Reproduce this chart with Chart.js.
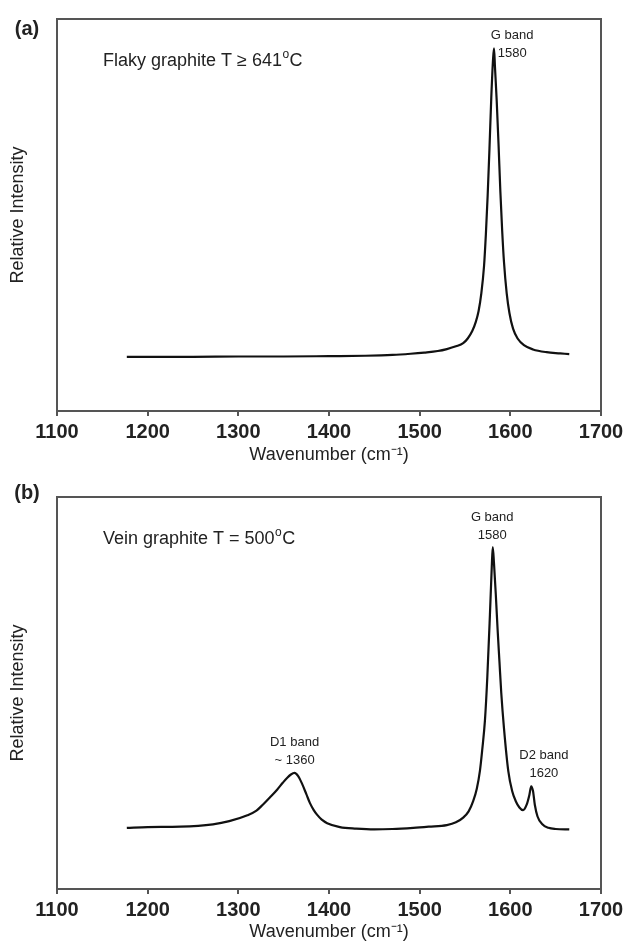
<!DOCTYPE html>
<html>
<head>
<meta charset="utf-8">
<script src="https://cdn.jsdelivr.net/npm/chart.js@4.4.1/dist/chart.umd.min.js"></script>
<style>
    body { margin: 0; background: #fff; }
    #wrap { position: relative; width: 631px; height: 944px; }
    canvas { position: absolute; left: 0; }
    #chartA { top: 0; }
    #chartB { top: 478px; }
</style>
</head>
<body>
<div id="wrap">
    <canvas id="chartA" width="631" height="470"></canvas>
    <canvas id="chartB" width="631" height="466"></canvas>
</div>
<script>
// panel (a): flaky graphite
var waveA = [1177, 1200, 1250, 1300, 1350, 1400, 1440, 1470, 1490, 1505, 1520, 1530, 1540, 1548, 1553,
    1558, 1562, 1565, 1568, 1571, 1573, 1575, 1577, 1579, 1581, 1582, 1583, 1585, 1587, 1589, 1591,
    1593, 1596, 1599, 1603, 1608, 1615, 1625, 1640, 1655, 1665];
var intensityA = [13.8, 13.8, 13.8, 13.9, 13.9, 14.0, 14.1, 14.3, 14.6, 14.9, 15.3, 15.8, 16.5, 17.3, 18.5,
    20.4, 22.8, 25.5, 30, 37, 45, 55, 67, 80, 90, 92.5, 88, 79, 68, 56, 46,
    38, 30, 25, 21, 18.5, 16.8, 15.7, 15.0, 14.7, 14.5];

// panel (b): vein graphite
var waveB = [1177, 1200, 1236, 1272, 1290, 1310, 1320, 1327, 1335, 1343, 1349, 1354, 1358, 1362, 1366,
    1370, 1375, 1379, 1383, 1387, 1392, 1398, 1412, 1430, 1450, 1470, 1493, 1510, 1530, 1540, 1548,
    1554, 1559, 1563, 1566.5, 1569, 1572, 1574.6, 1577.5, 1579.5, 1580.6, 1582, 1584, 1586, 1588, 1590,
    1593, 1597.8, 1602, 1606, 1610, 1614, 1618, 1621, 1623, 1625, 1627, 1630, 1635, 1642, 1650, 1665];
var intensityB = [15.6, 15.8, 15.9, 16.5, 17.3, 18.8, 20.0, 21.5, 23.4, 25.4, 27.1, 28.4, 29.2, 29.6, 28.8,
    27.0, 24.2, 21.9, 20.2, 18.9, 17.7, 16.8, 15.8, 15.4, 15.2, 15.3, 15.6, 15.9, 16.3, 17.0, 18.2,
    19.8, 22.4, 25.6, 30.2, 35.5, 43, 54, 70, 82, 87.2, 83, 75, 66, 58, 50,
    41, 30, 25, 22.4, 20.8, 20.1, 21.5, 24, 26.2, 25, 21.5, 18.5, 16.6, 15.6, 15.3, 15.2];

var xTicks = [1100, 1200, 1300, 1400, 1500, 1600, 1700];

// peak labels: [line 1, line 2, wavenumber, intensity of line 1]
var labelsA = [['G band', '1580', 1602, 95.9]];
var labelsB = [['G band', '1580', 1580, 94.9], ['D1 band', '~ 1360', 1362, 37.5], ['D2 band', '1620', 1637, 34.2]];

var textColor = '#222';
var frameColor = '#555';

function toPoints(xs, ys) {
    var pts = [];
    for (var i = 0; i < xs.length; i++) {
        pts.push({x: xs[i], y: ys[i]});
    }
    return pts;
}

// box around the plot area, panel letter, header text and peak labels
function annotations(letter, header, degrees, peakLabels, letterY) {
    return {
        id: 'annotations',
        afterDraw: function(chart) {
            var ctx = chart.ctx;
            var area = chart.chartArea;
            var xs = chart.scales.x, ys = chart.scales.y;
            ctx.save();
            ctx.strokeStyle = frameColor;
            ctx.lineWidth = 2;
            ctx.strokeRect(area.left, area.top, area.right - area.left, area.bottom - area.top);

            ctx.fillStyle = textColor;
            ctx.textBaseline = 'middle';
            ctx.textAlign = 'center';
            ctx.font = 'bold 20px "Liberation Sans", Arial, sans-serif';
            ctx.fillText(letter, 27, letterY);

            // header with superscript o
            ctx.textAlign = 'left';
            ctx.font = '18px "Liberation Sans", Arial, sans-serif';
            var hx = xs.getPixelForValue(1150.7);
            var hy = ys.getPixelForValue(89.3);
            ctx.fillText(header, hx, hy);
            hx += ctx.measureText(header).width;
            ctx.fillText(degrees, hx, hy);
            hx += ctx.measureText(degrees).width;
            ctx.font = '12px "Liberation Sans", Arial, sans-serif';
            ctx.fillText('o', hx + 0.5, hy - 6);
            hx += ctx.measureText('o').width + 1;
            ctx.font = '18px "Liberation Sans", Arial, sans-serif';
            ctx.fillText('C', hx, hy);

            ctx.textAlign = 'center';
            ctx.font = '13px "Liberation Sans", Arial, sans-serif';
            for (var i = 0; i < peakLabels.length; i++) {
                var lb = peakLabels[i];
                var px = xs.getPixelForValue(lb[2]);
                var py = ys.getPixelForValue(lb[3]);
                ctx.fillText(lb[0], px, py);
                ctx.fillText(lb[1], px, py + 18);
            }
            ctx.restore();
        }
    };
}

function makeChart(id, xs, ys, axisHeight, titlePad, plugin) {
    return new Chart(document.getElementById(id), {
        type: 'line',
        data: {
            datasets: [{
                data: toPoints(xs, ys),
                borderColor: '#111',
                borderWidth: 2.2,
                pointRadius: 0,
                fill: false,
                cubicInterpolationMode: 'monotone'
            }]
        },
        options: {
            responsive: false,
            animation: false,
            layout: {padding: {top: 19, right: 30, left: 0, bottom: 0}},
            plugins: {legend: {display: false}, tooltip: {enabled: false}},
            scales: {
                x: {
                    type: 'linear',
                    min: 1100,
                    max: 1700,
                    afterBuildTicks: function(scale) {
                        scale.ticks = xTicks.map(function(v) { return {value: v}; });
                    },
                    ticks: {
                        color: textColor,
                        font: {family: '"Liberation Sans", Arial, sans-serif', size: 20, weight: 'bold'},
                        padding: 4,
                        maxRotation: 0,
                        autoSkip: false,
                        callback: function(v) { return String(v); }
                    },
                    grid: {drawOnChartArea: false, drawTicks: true, tickLength: 5, color: frameColor, lineWidth: 2},
                    border: {display: false},
                    title: {
                        display: true,
                        text: 'Wavenumber (cm\u207B\u00B9)',
                        color: textColor,
                        font: {family: '"Liberation Sans", Arial, sans-serif', size: 18},
                        padding: {top: 0, bottom: titlePad}
                    },
                    afterFit: function(scale) { scale.height = axisHeight; }
                },
                y: {
                    min: 0,
                    max: 100,
                    ticks: {display: false},
                    grid: {display: false},
                    border: {display: false},
                    title: {
                        display: true,
                        text: 'Relative Intensity',
                        color: textColor,
                        font: {family: '"Liberation Sans", Arial, sans-serif', size: 18},
                        padding: {top: 7, bottom: 0}
                    },
                    afterFit: function(scale) { scale.width = 57; }
                }
            }
        },
        plugins: [plugin]
    });
}

makeChart('chartA', waveA, intensityA, 59, 4,
    annotations('(a)', 'Flaky graphite T \u2265 ', '641', labelsA, 29));
makeChart('chartB', waveB, intensityB, 55, 1,
    annotations('(b)', 'Vein graphite T = ', '500', labelsB, 15));
</script>
</body>
</html>
